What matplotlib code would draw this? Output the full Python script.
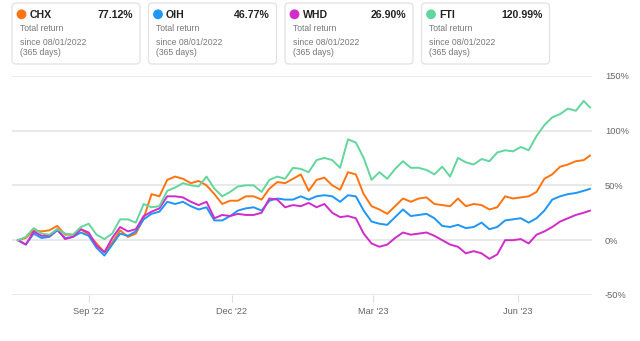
import numpy as np
import pandas as pd
import matplotlib
matplotlib.use("Agg")
import matplotlib.pyplot as plt
from matplotlib.patches import FancyBboxPatch, Circle

plt.rcParams['font.family'] = ['Liberation Sans', 'DejaVu Sans']

start = pd.Timestamp('2022-08-01')
days = list(range(0, 365, 5)) + [364]

chx = [0, 2, 9, 8, 9, 13, 5, 5, 10, 5,
       -3, -11, -2, 9, 3, 6, 20, 42, 40, 55,
       58, 56, 52, 54, 50, 42, 33, 36, 36, 40,
       40, 37, 47, 53, 52, 56, 60, 45, 55, 57,
       50, 46, 62, 60, 42, 31, 28, 24, 31, 38,
       35, 38, 39, 33, 32, 31, 38, 31, 33, 32,
       28, 30, 40, 38, 39, 40, 44, 56, 60, 67,
       69, 72, 73, 77.12]
oih = [0, -4, 6, 2, 3, 9, 2, 3, 7, 4,
       -7, -14, -4, 6, 4, 8, 19, 24, 26, 35,
       33, 35, 31, 28, 30, 18, 18, 22, 27, 29,
       30, 27, 36, 38, 37, 37, 40, 37, 40, 41,
       40, 35, 41, 40, 27, 17, 15, 14, 21, 28,
       22, 23, 24, 20, 13, 12, 14, 11, 12, 16,
       10, 12, 18, 19, 20, 16, 20, 27, 37, 40,
       42, 43, 45, 46.77]
whd = [0, -4, 8, 4, 4, 10, 1, 3, 10, 7,
       -5, -11, 2, 12, 8, 10, 22, 26, 29, 40,
       40, 39, 35, 32, 35, 20, 23, 22, 24, 23,
       23, 25, 38, 37, 30, 32, 31, 34, 30, 33,
       25, 21, 22, 20, 6, -3, -6, -4, 2, 7,
       5, 6, 7, 4, 0, -4, -6, -12, -10, -12,
       -17, -13, 0, 0, 1, -3, 5, 8, 12, 17,
       20, 23, 25, 26.90]
fti = [0, 3, 11, 6, 5, 10, 6, 5, 12, 15,
       5, 1, 6, 19, 19, 16, 33, 30, 31, 45,
       48, 52, 50, 49, 58, 47, 40, 44, 49, 50,
       50, 44, 55, 58, 56, 66, 65, 62, 73, 75,
       73, 66, 92, 89, 75, 55, 62, 56, 65, 72,
       66, 66, 64, 60, 67, 58, 75, 71, 69, 74,
       72, 80, 82, 81, 85, 82, 95, 105, 112, 115,
       120, 118, 127, 120.99]

tickers = ['CHX', 'OIH', 'WHD', 'FTI']
totals = ['77.12%', '46.77%', '26.90%', '120.99%']
colors = ['#ff7411', '#1e96f7', '#d12bca', '#62d69c']
series = [chx, oih, whd, fti]

ytick_vals = [-50, 0, 50, 100, 150]
xtick_dates = ['2022-09-15', '2022-12-15', '2023-03-15', '2023-06-15']
xtick_labels = ["Sep '22", "Dec '22", "Mar '23", "Jun '23"]

dates = start + pd.to_timedelta(days, unit='D')

fig = plt.figure(figsize=(6.4, 3.41), dpi=100)
ax = fig.add_axes([12 / 640, 1 - 295 / 341, 580 / 640, (295 - 75.7) / 341])

for vals, c in zip(series, colors):
    ax.plot(dates, vals, color=c, lw=1.4, zorder=3)

ax.set_ylim(-50, 150)
ax.set_xlim(start - pd.Timedelta(days=3.8), start + pd.Timedelta(days=365.3))
ax.set_yticks(ytick_vals)
ax.set_yticklabels([f'{v}%' for v in ytick_vals])
ax.yaxis.tick_right()
ax.tick_params(axis='y', length=0, pad=9.4, labelsize=6.7, labelcolor='#666666')
ax.set_xticks(pd.to_datetime(xtick_dates))
ax.set_xticklabels(xtick_labels)
ax.tick_params(axis='x', length=5, width=0.8, color='#dddddd', pad=4,
               labelsize=6.7, labelcolor='#666666')
ax.grid(axis='y', color='#e3e3e3', lw=1.1)
for s in ax.spines.values():
    s.set_visible(False)

# summary cards across the top
ov = fig.add_axes([0, 0, 1, 1])
ov.set_xlim(0, 640)
ov.set_ylim(341, 0)
ov.axis('off')
ov.patch.set_alpha(0)
for i, (t, tot, c) in enumerate(zip(tickers, totals, colors)):
    x0 = 12 + i * 136.5
    ov.add_patch(FancyBboxPatch((x0, 3), 128, 61,
                                boxstyle='round,pad=0,rounding_size=4',
                                fc='white', ec='#e2e2e2', lw=0.9))
    ov.add_patch(Circle((x0 + 9.5, 14.3), 4.2, color=c))
    ov.text(x0 + 17.5, 14.5, t, fontsize=7.6, fontweight='bold',
            color='#222222', va='center')
    ov.text(x0 + 121, 14.5, tot, fontsize=7.6, fontweight='bold',
            color='#222222', va='center', ha='right')
    ov.text(x0 + 7.6, 28.3, 'Total return', fontsize=6.2,
            color='#777777', va='center')
    ov.text(x0 + 7.6, 42.7, 'since 08/01/2022', fontsize=6.2,
            color='#777777', va='center')
    ov.text(x0 + 7.6, 52.7, '(365 days)', fontsize=6.2,
            color='#777777', va='center')

fig.savefig('out.png', dpi=100)
